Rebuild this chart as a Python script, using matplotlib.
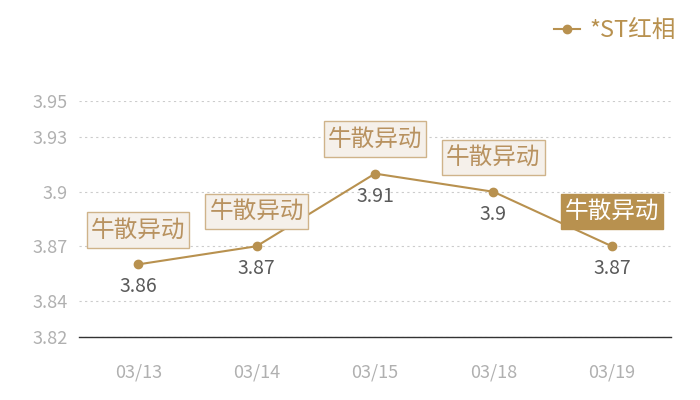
import matplotlib
matplotlib.use("Agg")
import matplotlib.pyplot as plt
from matplotlib.path import Path

plt.rcParams['font.family'] = ['Noto Sans CJK SC', 'DejaVu Sans']

dates = ["03/13", "03/14", "03/15", "03/18", "03/19"]
prices = [3.86, 3.87, 3.91, 3.90, 3.87]
value_labels = ["3.86", "3.87", "3.91", "3.9", "3.87"]
yticks = [3.82, 3.84, 3.87, 3.90, 3.93, 3.95]
ytick_labels = ["3.82", "3.84", "3.87", "3.9", "3.93", "3.95"]
event_text = "牛散异动"
series_name = "*ST红相"

gold = "#b8914f"
box_fill = "#f5f0ea"
box_edge = "#cfb38a"
box_text = "#b89260"


def label_box(x0, y0, width, height, mutation_size):
    # rectangle with more padding top/bottom than left/right
    px = 0.17 * mutation_size
    py = 0.26 * mutation_size
    return Path([(x0 - px, y0 - py), (x0 + width + px, y0 - py),
                 (x0 + width + px, y0 + height + py), (x0 - px, y0 + height + py),
                 (x0 - px, y0 - py)], closed=True)


fig = plt.figure(figsize=(7, 4), dpi=100)
ax = fig.add_axes([79 / 700, 1 - 337 / 400, 592 / 700, 236 / 400])

x = list(range(len(dates)))
ax.plot(x, prices, color=gold, linewidth=1.5, marker="o", markersize=6,
        label=series_name, zorder=3)

ax.set_xlim(-0.5, len(dates) - 0.5)
ax.set_ylim(3.82, 3.95)
ax.set_yticks(yticks)
ax.set_yticklabels(ytick_labels)
ax.set_xticks(x)
ax.set_xticklabels(dates)
ax.tick_params(axis="both", length=0, colors="#b0b0b0", labelsize=13)
ax.tick_params(axis="x", pad=19)
ax.tick_params(axis="y", pad=8)

for s in ["top", "right", "left"]:
    ax.spines[s].set_visible(False)
ax.spines["bottom"].set_color("#333333")
ax.spines["bottom"].set_linewidth(1)
ax.yaxis.grid(True, linestyle=(0, (2, 3)), color="#cccccc", linewidth=0.8)
ax.set_axisbelow(True)

for i, (xi, yi) in enumerate(zip(x, prices)):
    # value below point
    ax.annotate(value_labels[i], (xi, yi), xytext=(0, -12), textcoords="offset pixels",
                ha="center", va="top", fontsize=14, color="#5a5a5a")
    # event box above point
    last = i == len(x) - 1
    ax.annotate(event_text, (xi, yi), xytext=(0, 23), textcoords="offset pixels",
                ha="center", va="bottom", fontsize=17,
                color="white" if last else box_text,
                bbox=dict(boxstyle=label_box,
                          fc=gold if last else box_fill,
                          ec=gold if last else box_edge, lw=1))

fig.legend(loc="upper right", bbox_to_anchor=(0.996, 1.005), frameon=False,
           fontsize=17, labelcolor=gold, handlelength=1.1, handletextpad=0.4)

fig.savefig("out.png", dpi=100)
